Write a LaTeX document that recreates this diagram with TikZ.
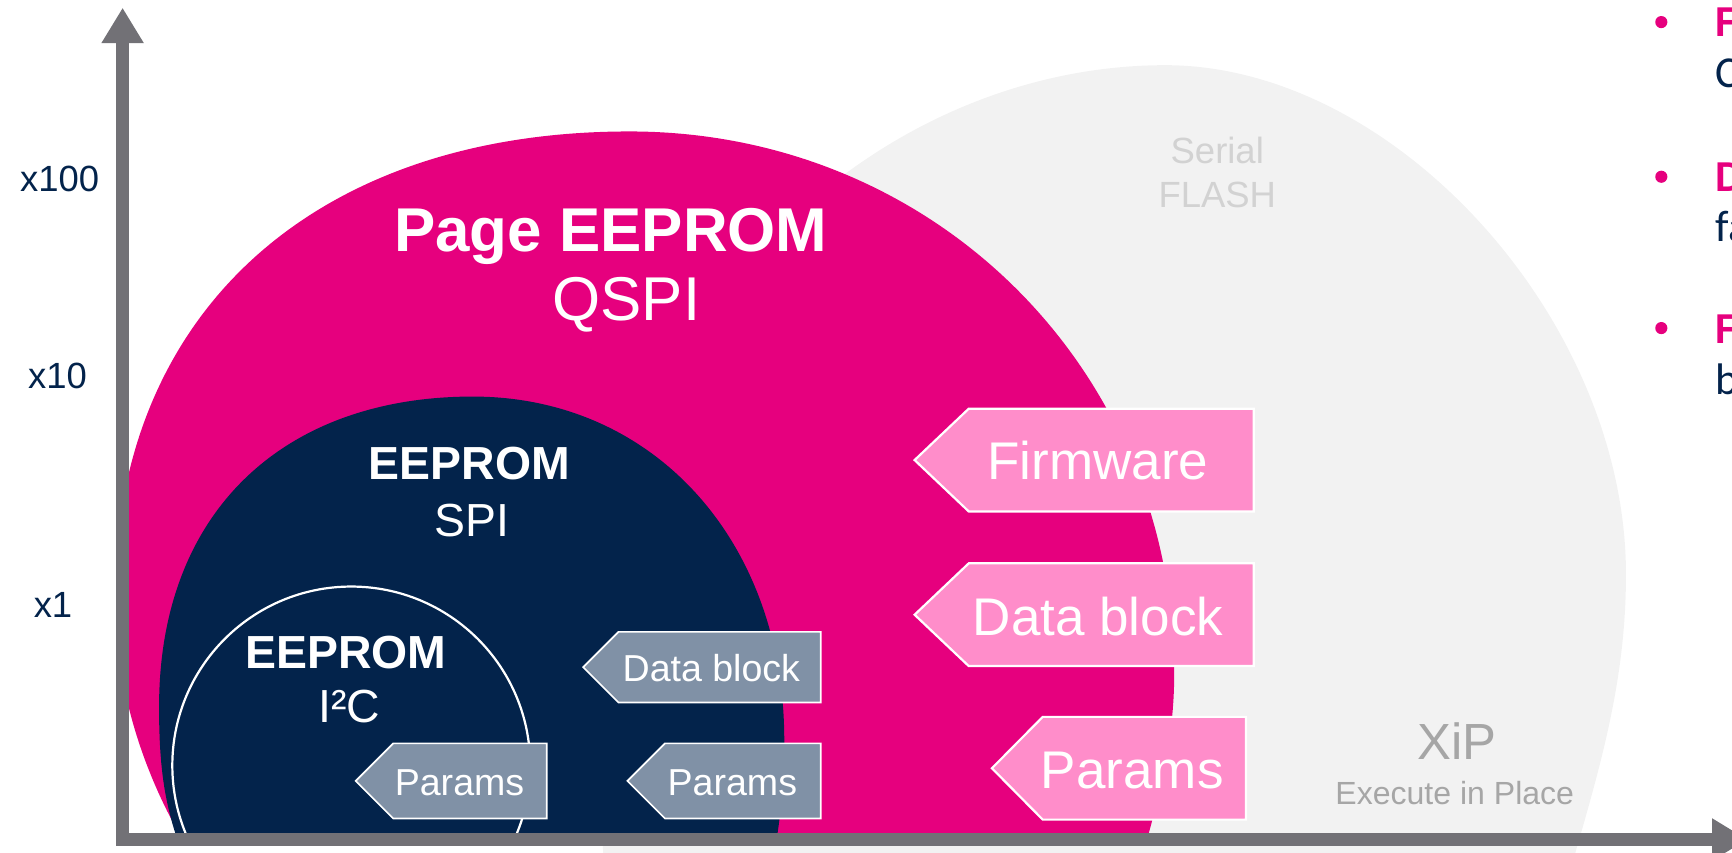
\documentclass[tikz,border=0pt]{standalone}
\usepackage{fontspec}
\setmainfont{Liberation Sans}
\newfontfamily\calib{Carlito}
\usetikzlibrary{arrows.meta}
\definecolor{stpink}{HTML}{E6007E}
\definecolor{stnavy}{HTML}{03234B}
\definecolor{axgray}{HTML}{727176}
\definecolor{flashgray}{HTML}{F2F2F2}
\definecolor{lpink}{HTML}{FF8DCA}
\definecolor{slate}{HTML}{8091A6}
\definecolor{sertext}{HTML}{D2D2D2}
\definecolor{xiptext}{HTML}{A6A6A6}
\newcommand\fsz[1]{\fontsize{#1pt}{#1pt}\selectfont}
\newcommand\tagshape[6]{\path[#6] (#1,{(#4+#5)/2}) -- (#2,#4) -- (#3,#4) -- (#3,#5) -- (#2,#5) -- cycle;}
\tikzset{
  whitetxt/.style={text=white, inner sep=0pt, anchor=base},
  pinktag/.style={fill=lpink, draw=white, line width=1pt, line join=miter},
  slatetag/.style={fill=slate, draw=white, line width=0.75pt, line join=miter},
  axisline/.style={draw=axgray, line width=6pt, line join=miter,
    arrows={Triangle[width=18pt,length=16pt]-Triangle[width=18pt,length=16pt]}},
  ylab/.style={text=stnavy, inner sep=0pt, font=\fsz{16.5}},
  rtext/.style={inner sep=0pt, anchor=base west, font=\calib\fsz{20}},
  bullet/.style={circle, fill=stpink, inner sep=0pt, minimum size=5.5pt},
}
\begin{document}
\begin{tikzpicture}[x=0.5pt,y=-0.5pt]
\useasboundingbox (0,0) rectangle (1568,772);
\clip (0,0) rectangle (1568,772);

% Serial FLASH area
\fill[flashgray] (548,800) .. controls (540,680) and (530,550) .. (560,450)
  .. controls (640,200) and (850,59) .. (1055,59)
  .. controls (1263,59) and (1472,290) .. (1472,520)
  .. controls (1472,620) and (1447,700) .. (1418,800) -- cycle;

\begin{scope}
\clip (111,0) rectangle (1568,760);
% Page EEPROM area
\fill[stpink] (168,790) -- (168,765) .. controls (118,680) and (104,600) .. (104,540)
  .. controls (104,287) and (281,119) .. (570,119)
  .. controls (846,119) and (1063,335) .. (1063,610)
  .. controls (1063,670) and (1050,720) .. (1030,790) -- cycle;
% EEPROM SPI area
\fill[stnavy] (170,790) -- (168,780) .. controls (150,735) and (144,700) .. (144,640)
  .. controls (144,462) and (258,359) .. (428,359)
  .. controls (592,359) and (710,490) .. (710,670)
  .. controls (710,720) and (705,750) .. (698,790) -- cycle;
% EEPROM I2C circle
\filldraw[fill=stnavy, draw=white, line width=1pt] (318,693) circle[radius=162];
\end{scope}

% tags
\tagshape{828}{877}{1135}{370}{463}{pinktag}
\tagshape{828}{877}{1135}{510}{603}{pinktag}
\tagshape{898}{944}{1128}{649}{742}{pinktag}
\tagshape{528}{560}{743}{572}{636}{slatetag}
\tagshape{568}{602}{743}{673}{741}{slatetag}
\tagshape{322}{356}{495}{673}{741}{slatetag}

% texts
\node[whitetxt, font=\bfseries\fsz{28}] (pe) at (553,228) {Page EEPROM};
\node[whitetxt, font=\fsz{28}] (qspi) at (567,290) {QSPI};
\node[whitetxt, font=\bfseries\fsz{21}] (spie) at (425,434) {EEPROM};
\node[whitetxt, font=\fsz{21}] (spi) at (427,486) {SPI};
\node[whitetxt, font=\bfseries\fsz{21}] (i2ce) at (313,605) {EEPROM};
\node[whitetxt, font=\fsz{21}] (i2c) at (316,654) {I²C};

\node[whitetxt, font=\fsz{24}] (fw) at (994,434) {Firmware};
\node[whitetxt, font=\fsz{24}] (db1) at (994,575) {Data block};
\node[whitetxt, font=\fsz{24}] (par1) at (1025,714) {Params};
\node[whitetxt, font=\fsz{17}] (db2) at (644,617) {Data block};
\node[whitetxt, font=\fsz{17}] (par2) at (663,720) {Params};
\node[whitetxt, font=\fsz{17}] (par3) at (416,720) {Params};

\node[inner sep=0pt, anchor=base, text=sertext, font=\fsz{16.5}] (ser) at (1102,148) {Serial};
\node[inner sep=0pt, anchor=base, text=sertext, font=\fsz{16.5}] (flash) at (1102,188) {FLASH};
\node[inner sep=0pt, anchor=base, text=xiptext, font=\fsz{23}] (xip) at (1319,688) {XiP};
\node[inner sep=0pt, anchor=base, text=xiptext, font=\fsz{14.5}] (exec) at (1317,728) {Execute in Place};

\node[ylab] (y100) at (54,162) {x100};
\node[ylab] (y10) at (52,340) {x10};
\node[ylab] (y1) at (48,548) {x1};

% right-hand list (cut off by the frame, as in the reference)
\node[bullet] (b1) at (1504,20) {};
\node[bullet] (b2) at (1504,160) {};
\node[bullet] (b3) at (1504,297) {};
\node[rtext, text=stpink, font=\calib\bfseries\fsz{20}] (r1) at (1553,33) {F};
\node[rtext, text=stnavy] (r2) at (1553,79) {C};
\node[rtext, text=stpink, font=\calib\bfseries\fsz{20}] (r3) at (1553,173) {D};
\node[rtext, text=stnavy] (r4) at (1553,219) {fa};
\node[rtext, text=stpink, font=\calib\bfseries\fsz{20}] (r5) at (1553,311) {F};
\node[rtext, text=stnavy] (r6) at (1553,357) {b};

% axes
\coordinate (ytip) at (111,7);
\coordinate (orig) at (111,760);
\coordinate (xtip) at (1582,760);
\draw[axisline] (ytip) -- (orig) -- (xtip);
\end{tikzpicture}
\end{document}
